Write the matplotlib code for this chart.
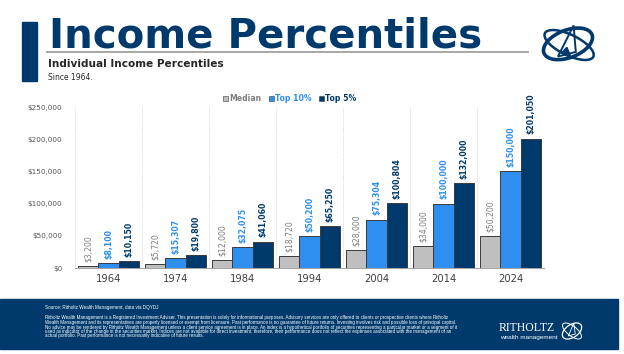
import numpy as np
import matplotlib
matplotlib.use("Agg")
import matplotlib.pyplot as plt
from matplotlib.patches import Rectangle, Ellipse, Polygon
from matplotlib.lines import Line2D

W, H = 624, 354

years = ["1964", "1974", "1984", "1994", "2004", "2014", "2024"]
median = [3200, 5720, 12000, 18720, 28000, 34000, 50200]
top10 = [8100, 15307, 32075, 50200, 75304, 100000, 150000]
top5 = [10150, 19800, 41060, 65250, 100804, 132000, 201050]
series_names = ["Median", "Top 10%", "Top 5%"]
y_ticks = [0, 50000, 100000, 150000, 200000, 250000]

NAVY = "#003A6C"
BLUE = "#2E8FF0"
GRAY = "#BFBFBF"
LABEL_GRAY = "#7F7F7F"


def px(x, y):
    # pixel coords (top-left origin) -> figure fraction
    return x / W, 1 - y / H


fig = plt.figure(figsize=(W / 100, H / 100), dpi=100)

# ---------------- header ----------------
x0, y0 = px(22, 81)
fig.patches.append(Rectangle((x0, y0), 15 / W, 59 / H, transform=fig.transFigure,
                             color=NAVY, zorder=-1))
fig.text(*px(49, 47), "Income Percentiles", fontsize=29, fontweight="bold",
         color=NAVY, ha="left", va="baseline")
fig.add_artist(Line2D([47 / W, 528 / W], [1 - 52 / H] * 2, transform=fig.transFigure,
                      color="#A0A0A0", lw=1.3))
fig.text(*px(48, 64), "Individual Income Percentiles", fontsize=7.6, fontweight="bold",
         color="#262626", ha="left", va="center")
fig.text(*px(48, 78), "Since 1964.", fontsize=5.5, color="#262626", ha="left", va="center")

# logo top right
lax = fig.add_axes([539 / W, 1 - 68 / H, 58 / W, 46 / H])
lax.set_xlim(-1.3, 1.3)
lax.set_ylim(-1, 1)
lax.axis("off")
lax.add_patch(Ellipse((0, 0.05), 2.3, 1.2, angle=20, fill=False, ec=NAVY, lw=2.6))
lax.add_patch(Ellipse((0.05, 0), 2.4, 0.9, angle=-25, fill=False, ec=NAVY, lw=1.8))
lax.add_patch(Polygon([(-0.45, -0.5), (0.25, 0.85), (0.35, -0.3)], closed=True,
                      fill=False, ec=NAVY, lw=1.4))
lax.add_patch(Polygon([(-0.3, -0.35), (0.1, -0.45), (-0.05, -0.1)], closed=True,
                      color=NAVY))

# ---------------- chart ----------------
ax = fig.add_axes([75 / W, 1 - 268 / H, 469 / W, 161 / H])
x = np.arange(len(years))
bw = 0.303
colors = [GRAY, BLUE, NAVY]
lab_colors = [LABEL_GRAY, BLUE, NAVY]
weights = ["normal", "bold", "bold"]
for i, (vals, c, lc, fw) in enumerate(zip([median, top10, top5], colors, lab_colors, weights)):
    bars = ax.bar(x + (i - 1) * bw, vals, bw, color=c, edgecolor="#3A3A3A",
                  linewidth=0.7, label=series_names[i], zorder=3)
    labs = ax.bar_label(bars, labels=[f"${v:,.0f}" for v in vals], rotation=90,
                        padding=3, fontsize=5.6, color=lc, fontweight=fw)
    for t in labs:
        t.set_clip_on(False)

for b in np.arange(-0.5, len(years), 1.0):
    ax.plot([b, b], [0, 250000], ls=(0, (1, 1.5)), color="#C8C8C8", lw=0.6, zorder=1)

ax.set_xlim(-0.5, len(years) - 0.5)
ax.set_ylim(0, 250000)
ax.set_xticks(x)
ax.set_xticklabels(years, fontsize=7.2, color="#404040")
ax.set_yticks(y_ticks)
ax.set_yticklabels([f"${v:,.0f}" for v in y_ticks], fontsize=5.2, color="#595959")
ax.tick_params(axis="both", length=0)
ax.tick_params(axis="y", pad=9)
ax.tick_params(axis="x", pad=4)
for s in ["top", "right", "left"]:
    ax.spines[s].set_visible(False)
ax.spines["bottom"].set_color("#A6A6A6")
ax.spines["bottom"].set_linewidth(0.8)

handles = [Rectangle((0, 0), 1, 1, fc=c, ec="#3A3A3A", lw=0.4) for c in colors]
leg = fig.legend(handles, series_names, loc="center", bbox_to_anchor=px(290, 99),
                 ncol=3, frameon=False, handlelength=0.6, handleheight=0.6,
                 handletextpad=0.15, columnspacing=1.0, borderaxespad=0,
                 prop={"weight": "bold", "size": 5.6})
for t, c in zip(leg.get_texts(), lab_colors):
    t.set_color(c)

# ---------------- footer ----------------
fx, fy = px(0, 349)
fig.patches.append(Rectangle((fx, fy), 618 / W, 50 / H, transform=fig.transFigure,
                             color=NAVY, zorder=-1))
fig.text(*px(45, 307), "Source: Ritholtz Wealth Management, data via DQYDJ",
         fontsize=3.3, color="white", va="center", family="Liberation Sans")
disclaimer = [
    "Ritholtz Wealth Management is a Registered Investment Adviser. This presentation is solely for informational purposes. Advisory services are only offered to clients or prospective clients where Ritholtz",
    "Wealth Management and its representatives are properly licensed or exempt from licensure. Past performance is no guarantee of future returns. Investing involves risk and possible loss of principal capital.",
    "No advice may be rendered by Ritholtz Wealth Management unless a client service agreement is in place. An index is a hypothetical portfolio of securities representing a particular market or a segment of it",
    "used as indicator of the change in the securities market. Indices are not available for direct investment, therefore, their performance does not reflect the expenses associated with the management of an",
    "actual portfolio. Past performance is not necessarily indicative of future results.",
]
for k, line in enumerate(disclaimer):
    fig.text(*px(45, 318 + 4.5 * k), line, fontsize=3.25, color="white", va="center",
             family="Liberation Sans")
fig.text(*px(499, 328), "RITHOLTZ", fontsize=8.5, color="white", va="center",
         family="Liberation Serif")
fig.text(*px(500, 338), "wealth management", fontsize=4.6, color="white", va="center",
         family="Liberation Sans")

fax = fig.add_axes([560 / W, 1 - 344 / H, 24 / W, 26 / H])
fax.set_xlim(-1.3, 1.3)
fax.set_ylim(-1.3, 1.3)
fax.axis("off")
fax.add_patch(Ellipse((0, 0), 2.3, 1.3, angle=30, fill=False, ec="white", lw=0.9))
fax.add_patch(Ellipse((0, 0), 2.4, 1.0, angle=-35, fill=False, ec="white", lw=0.7))
fax.add_patch(Polygon([(-0.4, -0.5), (0.2, 0.8), (0.35, -0.3)], closed=True,
                      fill=False, ec="white", lw=0.6))

fig.savefig("out.png", dpi=100)
